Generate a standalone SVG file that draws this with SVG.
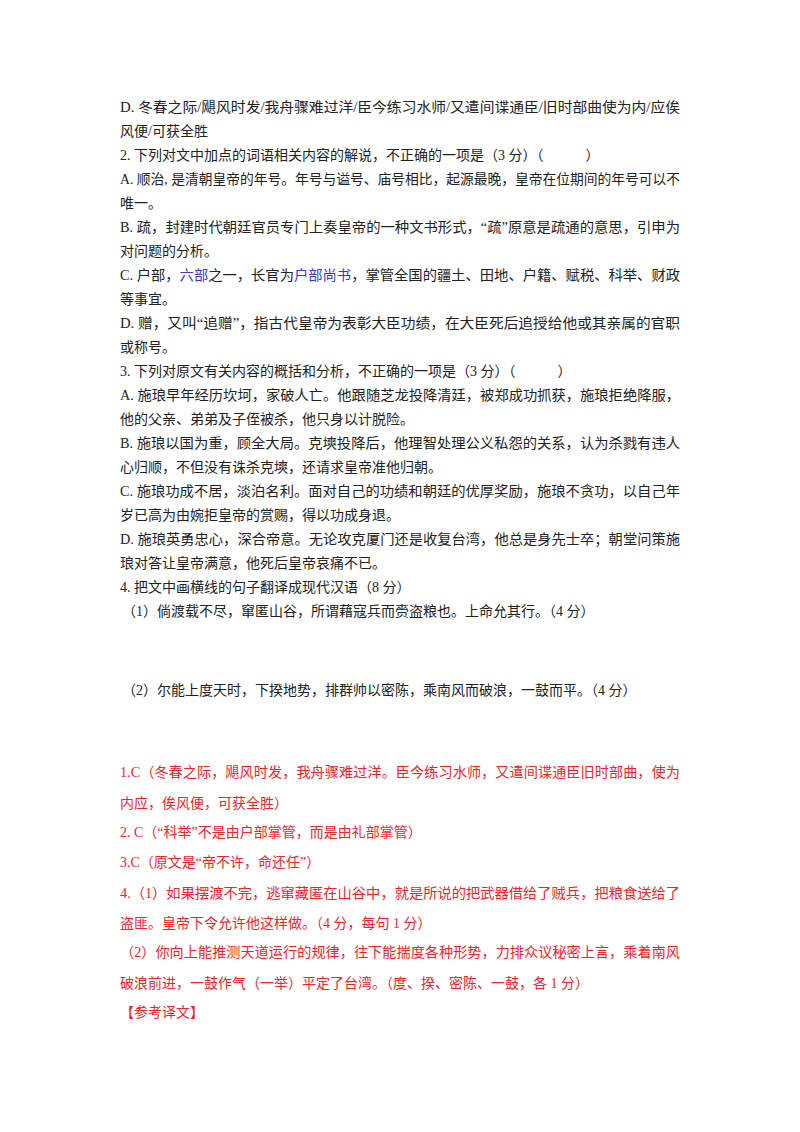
<svg xmlns="http://www.w3.org/2000/svg" width="800" height="1132" viewBox="0 0 800 1132">
<style>
text{font-family:"Liberation Serif","Noto Sans CJK SC",serif;font-size:14px;fill:#222}
.r{fill:#e8262c}
.b{fill:#3a3ac8}
</style>
<rect width="800" height="1132" fill="#fff"/>
<g id="questions">
<text x="120" y="112" textLength="560" lengthAdjust="spacingAndGlyphs">D. 冬春之际/飓风时发/我舟骤难过洋/臣今练习水师/又遣间谍通臣/旧时部曲使为内/应俟</text>
<text x="120" y="136">风便/可获全胜</text>
<text x="120" y="160">2. 下列对文中加点的词语相关内容的解说，不正确的一项是（3 分）（　　　）</text>
<text x="120" y="184" textLength="560" lengthAdjust="spacingAndGlyphs">A. 顺治, 是清朝皇帝的年号。年号与谥号、庙号相比，起源最晚，皇帝在位期间的年号可以不</text>
<text x="120" y="208">唯一。</text>
<text x="120" y="232" textLength="560" lengthAdjust="spacingAndGlyphs">B. 疏，封建时代朝廷官员专门上奏皇帝的一种文书形式，“疏”原意是疏通的意思，引申为</text>
<text x="120" y="256">对问题的分析。</text>
<text x="120" y="280" textLength="560" lengthAdjust="spacingAndGlyphs">C. 户部，<tspan class="b">六部</tspan>之一，长官为<tspan class="b">户部尚书</tspan>，掌管全国的疆土、田地、户籍、赋税、科举、财政</text>
<text x="120" y="304">等事宜。</text>
<text x="120" y="328" textLength="560" lengthAdjust="spacingAndGlyphs">D. 赠，又叫“追赠”，指古代皇帝为表彰大臣功绩，在大臣死后追授给他或其亲属的官职</text>
<text x="120" y="352">或称号。</text>
<text x="120" y="376">3. 下列对原文有关内容的概括和分析，不正确的一项是（3 分）（　　　）</text>
<text x="120" y="400" textLength="560" lengthAdjust="spacingAndGlyphs">A. 施琅早年经历坎坷，家破人亡。他跟随芝龙投降清廷，被郑成功抓获，施琅拒绝降服，</text>
<text x="120" y="424">他的父亲、弟弟及子侄被杀，他只身以计脱险。</text>
<text x="120" y="448" textLength="560" lengthAdjust="spacingAndGlyphs">B. 施琅以国为重，顾全大局。克塽投降后，他理智处理公义私怨的关系，认为杀戮有违人</text>
<text x="120" y="472">心归顺，不但没有诛杀克塽，还请求皇帝准他归朝。</text>
<text x="120" y="496" textLength="560" lengthAdjust="spacingAndGlyphs">C. 施琅功成不居，淡泊名利。面对自己的功绩和朝廷的优厚奖励，施琅不贪功，以自己年</text>
<text x="120" y="520">岁已高为由婉拒皇帝的赏赐，得以功成身退。</text>
<text x="120" y="544" textLength="560" lengthAdjust="spacingAndGlyphs">D. 施琅英勇忠心，深合帝意。无论攻克厦门还是收复台湾，他总是身先士卒；朝堂问策施</text>
<text x="120" y="568">琅对答让皇帝满意，他死后皇帝哀痛不已。</text>
<text x="120" y="592">4. 把文中画横线的句子翻译成现代汉语（8 分）</text>
<text x="122" y="616">（1）倘渡载不尽，窜匿山谷，所谓藉寇兵而赍盗粮也。上命允其行。（4 分）</text>
<text x="122" y="695">（2）尔能上度天时，下揆地势，排群帅以密陈，乘南风而破浪，一鼓而平。（4 分）</text>
</g>
<g id="answers">
<text class="r" x="120" y="777" textLength="560" lengthAdjust="spacingAndGlyphs">1.C（冬春之际，飓风时发，我舟骤难过洋。臣今练习水师，又遣间谍通臣旧时部曲，使为</text>
<text class="r" x="120" y="808">内应，俟风便，可获全胜）</text>
<text class="r" x="120" y="837">2. C（“科举”不是由户部掌管，而是由礼部掌管）</text>
<text class="r" x="120" y="867">3.C（原文是“帝不许，命还任”）</text>
<text class="r" x="120" y="898" textLength="560" lengthAdjust="spacingAndGlyphs">4.（1）如果摆渡不完，逃窜藏匿在山谷中，就是所说的把武器借给了贼兵，把粮食送给了</text>
<text class="r" x="120" y="928">盗匪。皇帝下令允许他这样做。（4 分，每句 1 分）</text>
<text class="r" x="120" y="957" textLength="560" lengthAdjust="spacingAndGlyphs">（2）你向上能推测天道运行的规律，往下能揣度各种形势，力排众议秘密上言，乘着南风</text>
<text class="r" x="120" y="988">破浪前进，一鼓作气（一举）平定了台湾。（度、揆、密陈、一鼓，各 1 分）</text>
<text class="r" x="120" y="1017">【参考译文】</text>
</g>
</svg>
